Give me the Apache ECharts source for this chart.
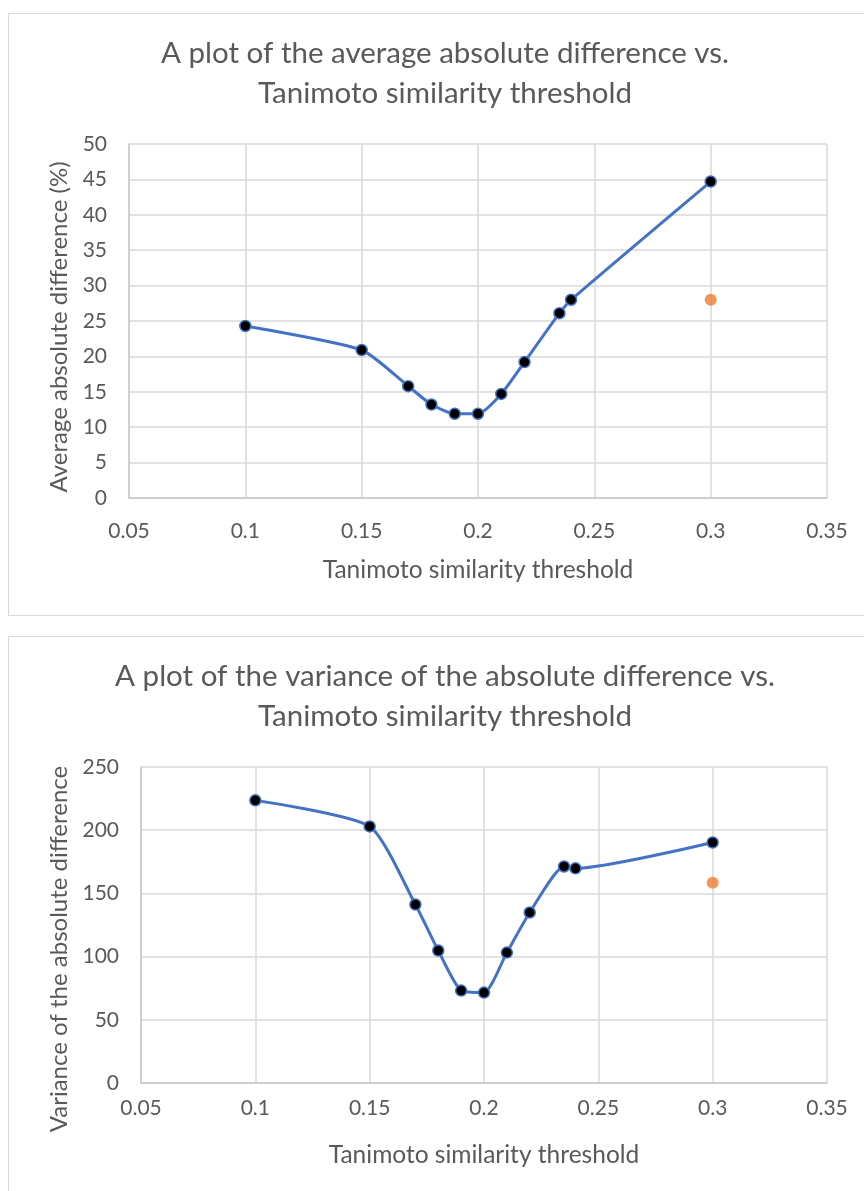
<!DOCTYPE html>
<html>
<head>
<meta charset="utf-8">
<script src="https://cdn.jsdelivr.net/npm/echarts@6/dist/echarts.min.js"></script>
<style>
  html, body { margin: 0; padding: 0; background: #ffffff; overflow: hidden; width: 864px; height: 1191px; }
  .panel { position: absolute; left: 8px; width: 874px; box-sizing: border-box; border: 1.5px solid #d9d9d9; background: #fff; }
  #avgChart { top: 13px; height: 603px; }
  #varChart { top: 636px; height: 600px; }
</style>
</head>
<body>
<div id="avgChart" class="panel"></div>
<div id="varChart" class="panel"></div>
<script>
// Tanimoto similarity thresholds tested
const thresholds = [0.10, 0.15, 0.17, 0.18, 0.19, 0.20, 0.21, 0.22, 0.235, 0.24, 0.30];
// Average absolute difference (%) at each threshold
const avgDiff = [24.3, 20.9, 15.8, 13.2, 11.9, 11.9, 14.7, 19.2, 26.1, 28.0, 44.7];
// Variance of the absolute difference at each threshold
const varDiff = [223.6, 203.0, 141.2, 104.8, 73.1, 71.5, 103.2, 134.9, 171.3, 169.8, 190.3];
// Separate single comparison point at 0.3
const avgExtra = [[0.30, 28.0]];
const varExtra = [[0.30, 158.4]];

const avgTitle = 'A plot of the average absolute difference vs.\nTanimoto similarity threshold';
const varTitle = 'A plot of the variance of the absolute difference vs.\nTanimoto similarity threshold';
const xName = 'Tanimoto similarity threshold';
const avgYName = 'Average absolute difference (%)';
const varYName = 'Variance of the absolute difference';

const FONT = 'Lato';
const TEXT = '#595959';
const GRIDC = '#d9d9d9';

function pairs(xs, ys) { return xs.map((x, i) => [x, ys[i]]); }

function buildOption(cfg) {
  return {
    animation: false,
    textStyle: { fontFamily: FONT },
    title: {
      text: cfg.title,
      left: 'center',
      top: cfg.titleTop,
      textStyle: { fontFamily: FONT, fontSize: 29.5, fontWeight: 'normal', color: TEXT, lineHeight: 40 }
    },
    grid: { left: cfg.grid.left, top: cfg.grid.top, width: cfg.grid.width, height: cfg.grid.height },
    xAxis: {
      type: 'value', min: 0.05, max: 0.35, interval: 0.05,
      name: xName, nameLocation: 'middle', nameGap: cfg.xNameGap,
      nameTextStyle: { fontFamily: FONT, fontSize: 24.5, color: TEXT },
      axisLine: { show: true, lineStyle: { color: '#c8c8c8', width: 1.5 } },
      axisTick: { show: false },
      axisLabel: { color: TEXT, fontSize: 21, fontFamily: FONT, margin: cfg.xLabelMargin,
                   formatter: v => String(+v.toFixed(2)) },
      splitLine: { show: true, lineStyle: { color: GRIDC, width: 1.5 } }
    },
    yAxis: {
      type: 'value', min: 0, max: cfg.yMax, interval: cfg.yInterval,
      name: cfg.yName, nameLocation: 'middle', nameGap: cfg.yNameGap,
      nameTextStyle: { fontFamily: FONT, fontSize: 24, color: TEXT, padding: cfg.yNamePad },
      axisLine: { show: true, lineStyle: { color: '#c8c8c8', width: 1.5 } },
      axisTick: { show: false },
      axisLabel: { color: TEXT, fontSize: 21, fontFamily: FONT, margin: cfg.yLabelMargin },
      splitLine: { show: true, lineStyle: { color: GRIDC, width: 1.5 } }
    },
    series: [
      {
        type: 'line',
        data: pairs(thresholds, cfg.values),
        smooth: 0.2,
        lineStyle: { color: '#4472C4', width: 3 },
        symbol: 'circle', symbolSize: 11,
        itemStyle: { color: '#000000', borderColor: '#4472C4', borderWidth: 1.5 },
        z: 3
      },
      {
        type: 'scatter',
        data: cfg.extra,
        symbol: 'circle', symbolSize: 12,
        itemStyle: { color: '#ED7D31' },
        z: 4
      }
    ]
  };
}

const avgChart = echarts.init(document.getElementById('avgChart'), null, { renderer: 'canvas' });
avgChart.setOption(buildOption({
  title: avgTitle, titleTop: 14,
  grid: { left: 120, top: 130, width: 698, height: 354 },
  values: avgDiff, extra: avgExtra,
  yMax: 50, yInterval: 5, yName: avgYName,
  xNameGap: 60, xLabelMargin: 23, yLabelMargin: 22,
  yNameGap: 55, yNamePad: [0, 12, 0, 0]
}));

const varChart = echarts.init(document.getElementById('varChart'), null, { renderer: 'canvas' });
varChart.setOption(buildOption({
  title: varTitle, titleTop: 14,
  grid: { left: 132, top: 130, width: 686, height: 316 },
  values: varDiff, extra: varExtra,
  yMax: 250, yInterval: 50, yName: varYName,
  xNameGap: 60, xLabelMargin: 15, yLabelMargin: 22,
  yNameGap: 63, yNamePad: [0, 48, 0, 0]
}));
</script>
</body>
</html>
